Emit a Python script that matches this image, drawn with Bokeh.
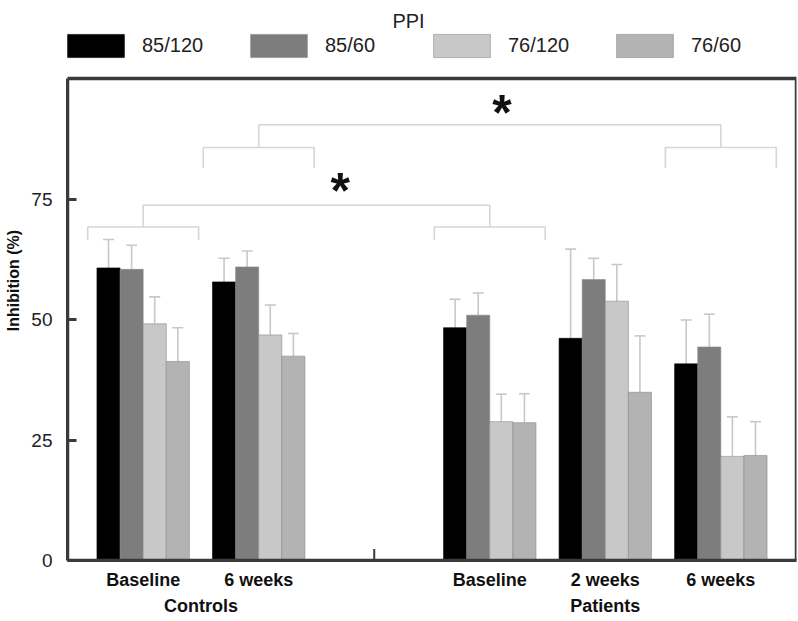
from bokeh.plotting import figure
from bokeh.models import (FactorRange, ColumnDataSource, Whisker, TeeHead, Legend, LegendItem,
                          FixedTicker, BoxAnnotation, Label)
from bokeh.transform import dodge
from bokeh.core.properties import value
from bokeh.embed import file_html
from bokeh.resources import INLINE

# ---------------- data ----------------
factors = [("Controls", "Baseline"), ("Controls", "6 weeks"),
           ("Patients", "Baseline"), ("Patients", "2 weeks"), ("Patients", "6 weeks")]
series_names = ["85/120", "85/60", "76/120", "76/60"]
means_85_120 = [60.7, 57.8, 48.3, 46.1, 40.8]
means_85_60 = [60.4, 60.9, 50.9, 58.3, 44.3]
means_76_120 = [49.1, 46.8, 28.8, 53.8, 21.6]
means_76_60 = [41.3, 42.4, 28.6, 34.9, 21.8]
upper_85_120 = [66.6, 62.7, 54.2, 64.6, 49.9]
upper_85_60 = [65.4, 64.2, 55.5, 62.7, 51.1]
upper_76_120 = [54.7, 53.0, 34.5, 61.4, 29.8]
upper_76_60 = [48.3, 47.1, 34.6, 46.6, 28.8]
y_ticks = [0, 25, 50, 75]
y_max = 100

# significance annotations: (group index a, group index b, sub-bracket top, leg bottom, bridge top)
brackets = [(0, 2, 69.2, 66.5, 73.7), (1, 4, 85.7, 81.5, 90.4)]
star_x = [2.206, 3.605]
star_y = [78.1, 94.2]

colors = ["#000000", "#7d7d7d", "#c8c8c8", "#b3b3b3"]
means = [means_85_120, means_85_60, means_76_120, means_76_60]
uppers = [upper_85_120, upper_85_60, upper_76_120, upper_76_60]
offsets = [-0.3, -0.1, 0.1, 0.3]

FONT = "Liberation Sans"
W, H = 798, 621
BL, BR, BT, BB = 67, 2, 0, 61
FRAME_H = H - BT - BB
PLOT_H = FRAME_H - 78              # pixels covering 0..100 (box top 78px below frame top)
y_top = y_max * FRAME_H / PLOT_H   # extra head-room for the legend/title
px_per_unit = PLOT_H / y_max

xr = FactorRange(factors=factors, group_padding=1.0, factor_padding=0.0,
                 range_padding=0.155, range_padding_units="absolute")

p = figure(x_range=xr, y_range=(0, y_top), width=W, height=H,
           output_backend="svg", toolbar_location=None,
           min_border_left=BL, min_border_right=BR, min_border_top=BT, min_border_bottom=BB)
p.background_fill_color = "white"
p.border_fill_color = "white"
p.outline_line_color = None
p.xgrid.visible = False
p.ygrid.visible = False

# frame box around the 0..100 region
p.add_layout(BoxAnnotation(bottom=0, top=y_max, fill_alpha=0, line_color="#3a3a3a",
                           line_alpha=1.0, line_width=3.5))

# bars + error bars
renderers = []
for name, col, m, u, off in zip(series_names, colors, means, uppers, offsets):
    src = ColumnDataSource(dict(x=factors, top=m, upper=u))
    r = p.vbar(x=dodge("x", off, range=xr), top="top", width=0.2, source=src,
               fill_color=col, line_color="#8a8a8a" if col != "#000000" else "#000000",
               line_width=0.6)
    renderers.append((name, r))
    w = Whisker(source=src, base=dodge("x", off, range=xr), upper="upper", lower="top",
                line_color="#c8c8c8", line_width=1.6,
                upper_head=TeeHead(size=11, line_color="#c8c8c8", line_width=1.6),
                lower_head=None)
    p.add_layout(w)

# centers of groups in synthetic coordinates (via range layout)
def center(i):
    grp_idx = 0 if i < 2 else 1
    return i + 0.5 + grp_idx * 1.0

half = 0.48
xs, ys = [], []
for a, b, top, leg, bridge in brackets:
    for g in (a, b):
        c = center(g)
        xs.append([c - half, c - half, c + half, c + half])
        ys.append([leg, top, top, leg])
    xs.append([center(a), center(a), center(b), center(b)])
    ys.append([top, bridge, bridge, top])
p.multi_line(xs=xs, ys=ys, line_color="#d6d6d6", line_width=1.6)

p.text(x=star_x, y=star_y, text=["*", "*"], text_font=value(FONT), text_font_style="bold",
       text_font_size="50px", text_align="center", text_baseline="alphabetic",
       y_offset=7, text_color="#111111")

# small tick in the gap
p.segment(x0=[2.5], y0=[0], x1=[2.5], y1=[2.4], line_color="#3a3a3a", line_width=2)

# title (20px below the top of the canvas)
p.add_layout(Label(x=2.797, y=(FRAME_H - 20) / px_per_unit, text="PPI", text_font=FONT,
                   text_font_size="20px", text_align="center", text_baseline="middle",
                   text_color="#222222"))

# axes
p.yaxis.ticker = FixedTicker(ticks=y_ticks)
p.yaxis.bounds = (0, y_max)
p.yaxis.axis_line_width = 3
p.yaxis.axis_line_color = "#3a3a3a"
p.yaxis.major_tick_in = 9
p.yaxis.major_tick_out = 0
p.yaxis.major_tick_line_width = 3
p.yaxis.major_tick_line_color = "#3a3a3a"
p.yaxis.minor_tick_line_color = None
p.yaxis.major_label_text_font = FONT
p.yaxis.major_label_text_font_size = "19px"
p.yaxis.major_label_text_color = "#222222"
p.yaxis.major_label_standoff = 15
p.yaxis.axis_label = "Inhibition (%)"
p.yaxis.axis_label_text_font = FONT
p.yaxis.axis_label_text_font_size = "16px"
p.yaxis.axis_label_text_font_style = "bold"
p.yaxis.axis_label_text_color = "#111111"
p.yaxis.axis_label_standoff = 6

p.xaxis.axis_line_width = 3
p.xaxis.axis_line_color = "#3a3a3a"
p.xaxis.major_tick_line_color = None
p.xaxis.minor_tick_line_color = None
p.xaxis.separator_line_color = None
p.xaxis.major_label_text_font = FONT
p.xaxis.major_label_text_font_size = "18px"
p.xaxis.major_label_text_font_style = "bold"
p.xaxis.major_label_text_color = "#111111"
p.xaxis.major_label_standoff = 3
p.xaxis.group_text_font = FONT
p.xaxis.group_text_font_size = "18px"
p.xaxis.group_text_font_style = "bold"
p.xaxis.group_text_color = "#111111"
p.xaxis.major_label_orientation = "horizontal"
p.xaxis.group_label_orientation = "horizontal"

# legend: bar swatches are drawn at 80% of the glyph box, so the box is enlarged
legend = Legend(items=[LegendItem(label=n, renderers=[r]) for n, r in renderers],
                orientation="horizontal", location=(-7, FRAME_H - 59.5),
                glyph_width=71, glyph_height=29, label_standoff=11, label_width=101,
                spacing=0, padding=0, margin=0,
                label_text_font=FONT, label_text_font_size="20px", label_text_color="#222222",
                border_line_color=None, background_fill_alpha=0)
p.add_layout(legend)

open("out.html", "w").write(file_html(p, INLINE))
